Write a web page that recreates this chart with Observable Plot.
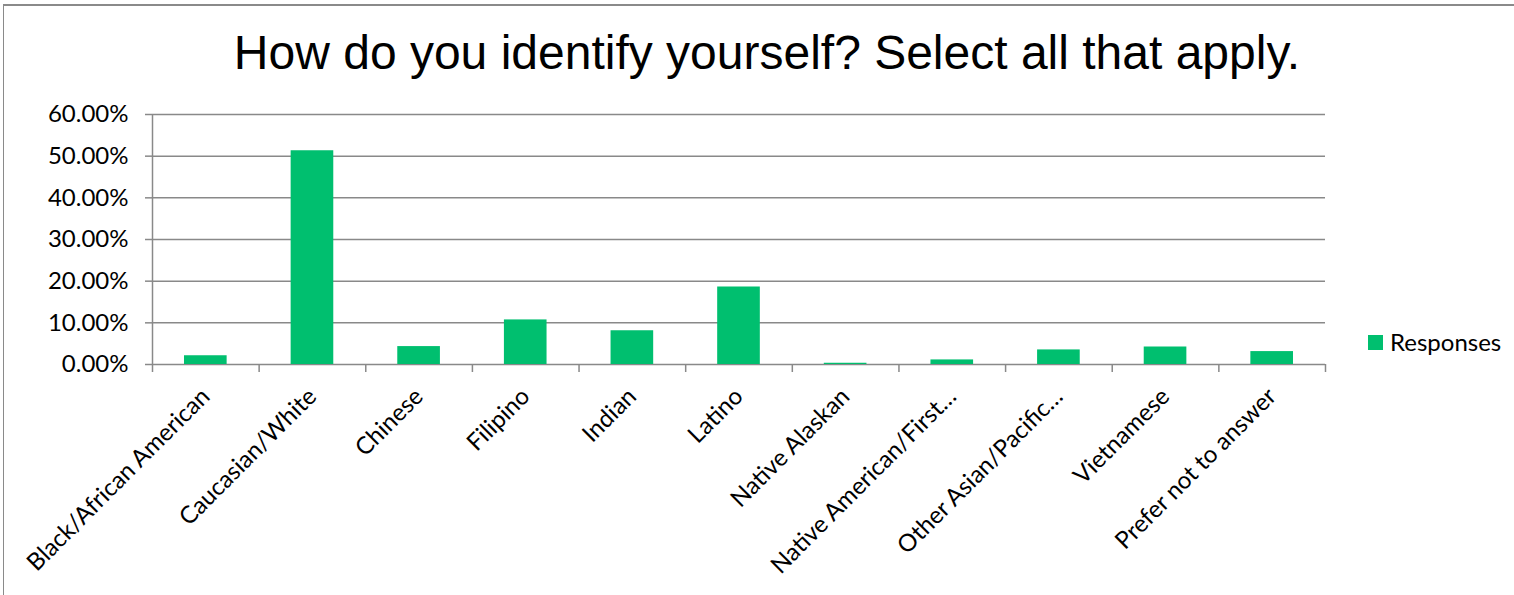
<!DOCTYPE html>
<html>
<head>
<meta charset="utf-8">
<script src="https://cdn.jsdelivr.net/npm/d3@7"></script>
<script src="https://cdn.jsdelivr.net/npm/@observablehq/plot@0.6"></script>
<style>
  html, body { margin: 0; padding: 0; background: #fff; }
  #wrap { position: relative; width: 1514px; height: 595px; overflow: hidden; background: #fff; }
  #frame { position: absolute; left: 3px; top: 4px; width: 1520px; height: 600px;
           border-left: 1px solid #8a8a8a; border-top: 2px solid #8a8a8a; box-sizing: border-box; }
  #title { position: absolute; left: 767px; top: 29px; transform: translateX(-50%);
           font-family: "Liberation Sans", Arial, sans-serif; font-size: 48px; line-height: 48px;
           color: #000; white-space: nowrap; }
  #chart { position: absolute; left: 0; top: 0; }
  #legend { position: absolute; left: 1368px; top: 330px; display: flex; align-items: center;
            font-family: Lato, sans-serif; font-size: 24px; line-height: 24px; color: #000; }
  #legend .sw { width: 15px; height: 15px; background: #00BF6F; margin-right: 7px; }
</style>
</head>
<body>
<div id="wrap">
  <div id="frame"></div>
  <div id="chart"></div>
  <div id="title">How do you identify yourself? Select all that apply.</div>
  <div id="legend"><span class="sw"></span><span id="legendLabel"></span></div>
</div>
<script>
const seriesName = "Responses";
const categories = [
  "Black/African American",
  "Caucasian/White",
  "Chinese",
  "Filipino",
  "Indian",
  "Latino",
  "Native Alaskan",
  "Native American/First…",
  "Other Asian/Pacific…",
  "Vietnamese",
  "Prefer not to answer"
];
const values = [2.1, 51.3, 4.3, 10.7, 8.1, 18.6, 0.3, 1.1, 3.5, 4.2, 3.1];
const yTicks = [0, 10, 20, 30, 40, 50, 60];

const data = categories.map((c, i) => ({category: c, index: i, value: values[i]}));
const gridColor = "#898989";

const chart = Plot.plot({
  width: 1514,
  height: 595,
  marginLeft: 152,
  marginRight: 189,
  marginTop: 114,
  marginBottom: 231,
  style: {fontFamily: "Lato, sans-serif", fontSize: "24px", color: "#000", background: "transparent", overflow: "visible"},
  x: {domain: [0, categories.length], label: null},
  y: {domain: [0, 60], label: null},
  marks: [
    Plot.ruleY(yTicks, {stroke: gridColor, strokeWidth: 1.5}),
    Plot.axisY({ticks: yTicks, label: null, tickSize: 7, tickPadding: 17, tickFormat: d => d.toFixed(2) + "%",
                stroke: gridColor, strokeWidth: 1.5, fill: "#000", strokeOpacity: 1}),
    Plot.ruleX([0], {stroke: gridColor, strokeWidth: 1.5}),
    Plot.axisX({ticks: d3.range(categories.length + 1), label: null, tickSize: 8, tickFormat: () => "",
                stroke: gridColor, strokeWidth: 1.5, strokeOpacity: 1}),
    Plot.axisX({ticks: categories.map((c, i) => i + 0.5), label: null, tickFormat: v => categories[Math.floor(v)],
                tickRotate: -45, tickSize: 0, tickPadding: 28, fill: "#000"}),
    Plot.rectY(data, {x1: "index", x2: d => d.index + 1, y: "value", fill: "#00BF6F",
                      insetLeft: 32, insetRight: 32})
  ]
});
document.getElementById("chart").appendChild(chart);
document.getElementById("legendLabel").textContent = seriesName;
</script>
</body>
</html>
